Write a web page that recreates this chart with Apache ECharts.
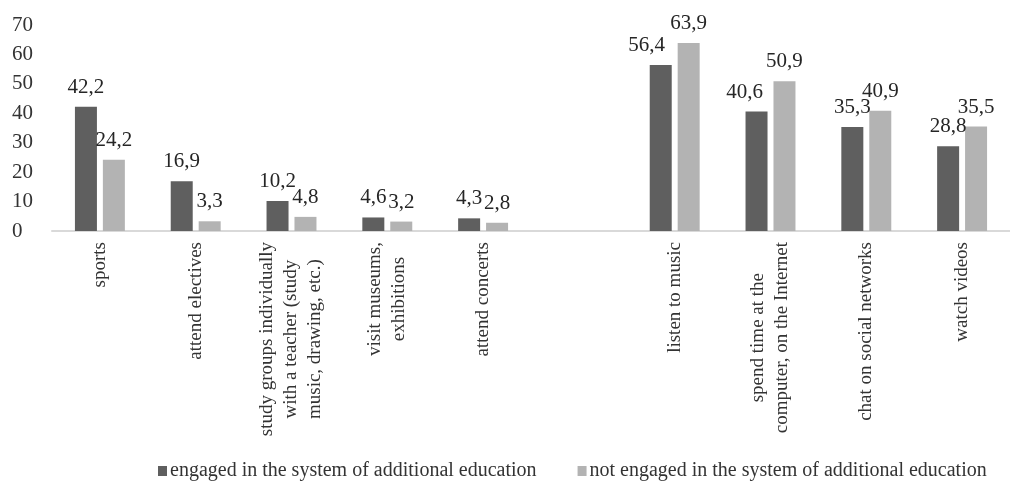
<!DOCTYPE html>
<html>
<head>
<meta charset="utf-8">
<script src="https://cdn.jsdelivr.net/npm/echarts@6/dist/echarts.min.js"></script>
<style>
  html, body { margin: 0; padding: 0; background: #fff; }
  #main { width: 1010px; height: 486px; }
</style>
</head>
<body>
<div id="main"></div>
<script>
var categories = [
  'sports',
  'attend electives',
  'study groups individually\nwith a teacher (study\nmusic, drawing, etc.)',
  'visit museums,\nexhibitions',
  'attend concerts',
  '',
  'listen to music',
  'spend time at the\ncomputer, on the Internet',
  'chat on social networks',
  'watch videos'
];
var engaged = [42.2, 16.9, 10.2, 4.6, 4.3, null, 56.4, 40.6, 35.3, 28.8];
var notEngaged = [24.2, 3.3, 4.8, 3.2, 2.8, null, 63.9, 50.9, 40.9, 35.5];
var seriesNames = [
  'engaged in the system of additional education',
  'not engaged in the system of additional education'
];
// labels nudged left in the original to keep clear of the neighbouring bar
var engagedLabelShift = { 6: -14, 7: -12 };

var font = 'Liberation Serif';
var myChart = echarts.init(document.getElementById('main'));

var barLabel = {
  show: true,
  position: 'top',
  distance: 9,
  fontFamily: font,
  fontSize: 21,
  color: '#262626',
  formatter: function (p) {
    return String(p.value).replace('.', ',');
  }
};

var engagedData = engaged.map(function (v, i) {
  if (engagedLabelShift[i] !== undefined) {
    return { value: v, label: { offset: [engagedLabelShift[i], 0] } };
  }
  return v;
});

option = {
  animation: false,
  color: ['#5f5f5f', '#b3b3b3'],
  grid: {
    left: 52,
    top: 25,
    bottom: 255,
    width: 966
  },
  legend: {
    left: 153,
    top: 456,
    itemWidth: 9,
    itemHeight: 10,
    itemGap: 41,
    icon: 'rect',
    textStyle: {
      fontFamily: font,
      fontSize: 20,
      color: '#333',
      padding: [0, 0, 0, -2]
    },
    data: seriesNames
  },
  xAxis: {
    type: 'category',
    data: categories,
    axisLine: { lineStyle: { color: '#d9d9d9', width: 2 } },
    axisTick: { show: false },
    axisLabel: {
      interval: 0,
      rotate: 90,
      margin: 11,
      fontFamily: font,
      fontSize: 19,
      lineHeight: 24,
      color: '#333',
      formatter: function (v) {
        return v.split('\n').map(function (s) { return '{c|' + s + '}'; }).join('\n');
      },
      rich: {
        c: { align: 'center', fontFamily: font, fontSize: 19, lineHeight: 24, color: '#333' }
      }
    }
  },
  yAxis: {
    type: 'value',
    min: 0,
    max: 70,
    interval: 10,
    axisLine: { show: false },
    axisTick: { show: false },
    splitLine: { show: false },
    axisLabel: {
      align: 'left',
      margin: 40,
      fontFamily: font,
      fontSize: 21,
      color: '#333'
    }
  },
  series: [
    {
      name: seriesNames[0],
      type: 'bar',
      barWidth: 22,
      barGap: '27%',
      label: barLabel,
      data: engagedData
    },
    {
      name: seriesNames[1],
      type: 'bar',
      barWidth: 22,
      label: barLabel,
      data: notEngaged
    }
  ]
};

if (option && typeof option === 'object') {
  myChart.setOption(option, true);
}
</script>
</body>
</html>
